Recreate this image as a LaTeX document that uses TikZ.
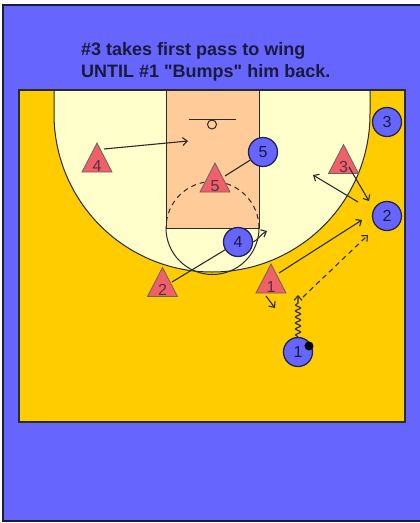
\documentclass[tikz,border=0pt]{standalone}
\usepackage{fontspec}
\setmainfont{Liberation Sans}[Ligatures=TeXOff]
\usetikzlibrary{arrows.meta,decorations.pathmorphing}
\definecolor{bgblue}{HTML}{6666FF}
\definecolor{courtyellow}{HTML}{FFCC00}
\definecolor{cream}{HTML}{FFFFCC}
\definecolor{peach}{HTML}{FFCC99}
\definecolor{defred}{HTML}{F06068}
\definecolor{linecol}{HTML}{2A2A2A}
\definecolor{navy}{HTML}{1A1A3A}
\definecolor{offborder}{HTML}{222255}
\begin{document}
\begin{tikzpicture}[x=1pt,y=-1pt,
  courtline/.style={draw=linecol, line width=1},
  offense/.style={circle, fill=bgblue, draw=offborder, line width=1.3, minimum size=29, inner sep=0,
    text=navy, font=\fontsize{16}{16}\selectfont},
  deflabel/.style={anchor=base, inner sep=0, text=navy!70!defred, font=\fontsize{16}{16}\selectfont},
  defshape/.style={fill=defred, draw=black!60, line width=0.8},
  defender/.pic={
    \draw[defshape] (0,-14.5) -- (15,14.5) -- (-15,14.5) -- cycle;
    \node[deflabel] (-n) at (0,13.5) {#1};
  },
  arr/.style={draw=linecol, line width=1.1, -{Straight Barb[length=4.5pt,width=8pt]}},
  plain/.style={draw=linecol, line width=1.1},
  titletext/.style={anchor=base west, inner sep=0, text=navy, font=\fontsize{18}{22}\selectfont\bfseries},
  ball/.style={circle, fill=black, minimum size=9, inner sep=0}
]
\useasboundingbox (0,0) rectangle (420,523);
% background
\fill[white] (0,0) rectangle (420,523);
\fill[bgblue] (3,5) rectangle (420,521);
\draw[draw=navy, line width=1.2] (420,5) -- (3,5) -- (3,521) -- (420,521);
% title
\node[titletext] (t1) at (81,55) {\#3 takes first pass to wing};
\node[titletext] (t2) at (81,77) {UNTIL \#1 "Bumps" him back.};
% court
\fill[courtyellow] (19,90) rectangle (405,422);
\fill[cream] (54,90) -- (54,114) arc[start angle=180, end angle=0, radius=158] -- (370,90) -- cycle;
\draw[courtline] (54,90) -- (54,114) arc[start angle=180, end angle=0, radius=158] -- (370,90);
\draw[courtline, fill=peach] (166,90) rectangle (259,228);
\draw[courtline] (166,228) arc[start angle=180, end angle=0, radius=46.5];
\draw[courtline, dash pattern=on 5pt off 4pt] (259,228) arc[start angle=0, end angle=-180, radius=46.5];
\draw[courtline] (189,119) -- (236,119);
\draw[courtline] (212,124.5) circle[radius=4.5];
\draw[draw=linecol, line width=1.4] (19,90) rectangle (405,422);
% offense
\node[offense] (o3) at (387,122) {3};
\node[offense] (o5) at (263,152) {5};
\node[offense] (o2) at (387,216) {2};
\node[offense] (o4) at (238,242) {4};
\node[offense] (o1) at (298,352) {1};
\node[ball] (bl) at (309,346) {};
% defense
\pic (d4) at (97,157.5) {defender=4};
\pic (d5) at (215,177.5) {defender=5};
\pic (d3) at (343.5,159) {defender=3};
\pic (d2) at (162.5,282) {defender=2};
\pic (d1) at (271,278.5) {defender=1};
% connector ends
\coordinate (d4s) at (104,149);
\coordinate (d4e) at (188,141);
\coordinate (d5t) at (225,176);
\coordinate (d3s) at (349,167);
\coordinate (d3e) at (369,201);
\coordinate (b3s) at (358,202);
\coordinate (b3e) at (313,175);
\coordinate (d2s) at (172,282);
\coordinate (c4e) at (267,231);
\coordinate (d1s) at (279,273);
\coordinate (d1e) at (362,220);
\coordinate (ps) at (303,297);
\coordinate (pe) at (368,235);
\coordinate (d1a) at (266,296);
\coordinate (d1b) at (275,308);
\coordinate (dre) at (298,295);
% connectors
\draw[arr] (d4s) -- (d4e);
\draw[plain] (o5) -- (d5t);
\draw[arr] (d3s) -- (d3e);
\draw[arr] (b3s) -- (b3e);
\draw[plain] (d2s) -- (o4);
\draw[arr] (o4.east) .. controls (258,240) and (261,234) .. (c4e);
\draw[arr] (d1s) -- (d1e);
\draw[arr, dash pattern=on 5pt off 4pt] (ps) -- (pe);
\draw[arr] (d1a) -- (d1b);
\draw[arr, decorate, decoration={snake, amplitude=2.5pt, segment length=6pt, post length=8pt}] (o1) -- (dre);
\end{tikzpicture}
\end{document}
